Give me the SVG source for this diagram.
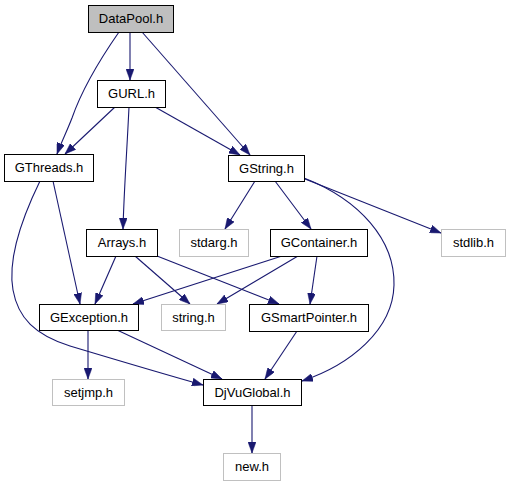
<svg xmlns="http://www.w3.org/2000/svg" width="511" height="485" viewBox="0 0 511 485">
<style>
.n rect{fill:#fff;stroke:#000;stroke-width:1}
.n.g rect{stroke:#c0c0c0}
.n.root rect{fill:#bfbfbf}
.n text{font-family:"Liberation Sans",Arial,sans-serif;font-size:13px;text-anchor:middle;fill:#000}
.e path{fill:none;stroke:#191970;stroke-width:1.1;marker-end:url(#a)}
</style>
<defs>
<marker id="a" viewBox="0 0 11 8" refX="11" refY="4" markerWidth="11" markerHeight="8" markerUnits="userSpaceOnUse" orient="auto">
<path d="M0,0 L11,4 L0,8 z" fill="#191970" stroke="#191970" stroke-width="0.5"/>
</marker>
</defs>
<rect width="511" height="485" fill="#fff"/>
<g class="e">
<path d="M119,32 C96,65 80,95 72,118 C67,131 61,143 57,154"/>
<path d="M130,32 L130,80"/>
<path d="M142,32 L250,155"/>
<path d="M115,107 L65,154"/>
<path d="M155,107 L240,155"/>
<path d="M129,107 C127,150 124,190 123,229"/>
<path d="M53,181 L80,304"/>
<path d="M40,181 C20,222 8,262 13,290 C18,318 35,335 70,346 C110,358 160,373 203,385"/>
<path d="M255,181 L225,229"/>
<path d="M275,181 L311,229"/>
<path d="M305,179 L441,233"/>
<path d="M304,178 C360,200 395,240 394,285 C393,330 350,365 302,381"/>
<path d="M116,256 L95,304"/>
<path d="M135,256 L190,304"/>
<path d="M157,256 L279,304"/>
<path d="M282,256 L133,304"/>
<path d="M298,256 L217,304"/>
<path d="M317,256 L310,304"/>
<path d="M88,330 L88,379"/>
<path d="M117,330 L222,379"/>
<path d="M297,331 L265,379"/>
<path d="M252,405 L252,453"/>
</g>
<g id="DataPool" class="n root"><rect x="88.5" y="5.5" width="85" height="27"/><text x="131" y="23">DataPool.h</text></g>
<g id="GURL" class="n"><rect x="97.5" y="80.5" width="68" height="27"/><text x="131.5" y="98">GURL.h</text></g>
<g id="GThreads" class="n"><rect x="4.5" y="154.5" width="89" height="27"/><text x="49" y="172">GThreads.h</text></g>
<g id="GString" class="n"><rect x="228.5" y="155.5" width="76" height="26"/><text x="266.5" y="173">GString.h</text></g>
<g id="stdarg" class="n g"><rect x="179.5" y="229.5" width="69" height="27"/><text x="214" y="247">stdarg.h</text></g>
<g id="GContainer" class="n"><rect x="270.5" y="229.5" width="97" height="27"/><text x="319" y="247">GContainer.h</text></g>
<g id="stdlib" class="n g"><rect x="441.5" y="229.5" width="64" height="27"/><text x="473.5" y="247">stdlib.h</text></g>
<g id="Arrays" class="n"><rect x="86.5" y="229.5" width="71" height="27"/><text x="122" y="247">Arrays.h</text></g>
<g id="GException" class="n"><rect x="39.5" y="304.5" width="99" height="26"/><text x="89" y="322">GException.h</text></g>
<g id="string" class="n g"><rect x="161.5" y="304.5" width="64" height="26"/><text x="193.5" y="322">string.h</text></g>
<g id="GSmartPointer" class="n"><rect x="249.5" y="304.5" width="119" height="27"/><text x="309" y="322">GSmartPointer.h</text></g>
<g id="DjVuGlobal" class="n"><rect x="203.5" y="379.5" width="98" height="26"/><text x="252.5" y="397">DjVuGlobal.h</text></g>
<g id="setjmp" class="n g"><rect x="52.5" y="379.5" width="72" height="26"/><text x="88.5" y="397">setjmp.h</text></g>
<g id="new" class="n g"><rect x="223.5" y="453.5" width="57" height="27"/><text x="252" y="471">new.h</text></g>
</svg>
